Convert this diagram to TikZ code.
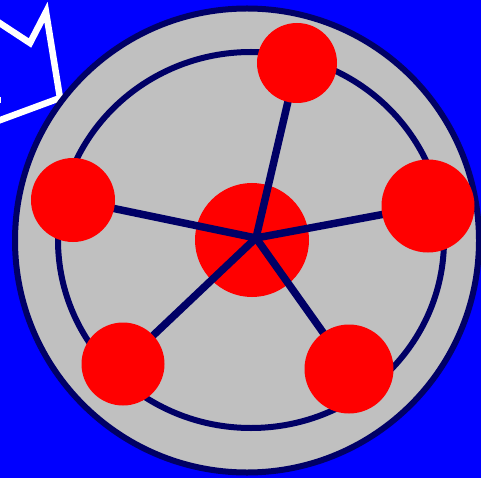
\documentclass[tikz,border=0pt]{standalone}
\definecolor{bgblue}{HTML}{0000FF}
\definecolor{plate}{HTML}{C0C0C0}
\definecolor{dnavy}{HTML}{000066}
\definecolor{ballred}{HTML}{FF0000}
\begin{document}
\begin{tikzpicture}[x=1pt,y=-1pt,
  ring/.style={draw=dnavy,line width=6pt},
  spoke/.style={draw=dnavy,line width=7.5pt},
  ball/.style={circle,fill=ballred,inner sep=0pt,minimum size=#1},
  outline/.style={draw=white,line width=6.5pt}]
\useasboundingbox (0,0) rectangle (481,478);
\fill[bgblue] (0,0) rectangle (481,478);
% white outline shape at top left
\draw[outline] (-5,20) -- (30,43) -- (46,12) -- (60,98) -- (-5,122);
\draw[outline] (-5,100) -- (1,100);
% plate
\coordinate (c) at (247,240.5);
\path[ring,fill=plate] (c) circle (232);
\draw[ring] (251,240) ellipse (193 and 188);
% hub
\node[ball=114pt] (hub) at (252,240) {};
\coordinate (o) at (256,238);
% satellites positions
\coordinate (pt) at (297,63);
\coordinate (pr) at (428,206);
\coordinate (pl) at (73,200);
\coordinate (pbl) at (123,364);
\coordinate (pbr) at (349,369);
\draw[spoke] (o) -- (pt);
\draw[spoke] (o) -- (pr);
\draw[spoke] (o) -- (pl);
\draw[spoke] (o) -- (pbl);
\draw[spoke] (o) -- (pbr);
\node[ball=80pt] (st) at (pt) {};
\node[ball=93pt] (sr) at (pr) {};
\node[ball=84pt] (sl) at (pl) {};
\node[ball=83pt] (sbl) at (pbl) {};
\node[ball=89pt] (sbr) at (pbr) {};
\end{tikzpicture}
\end{document}
